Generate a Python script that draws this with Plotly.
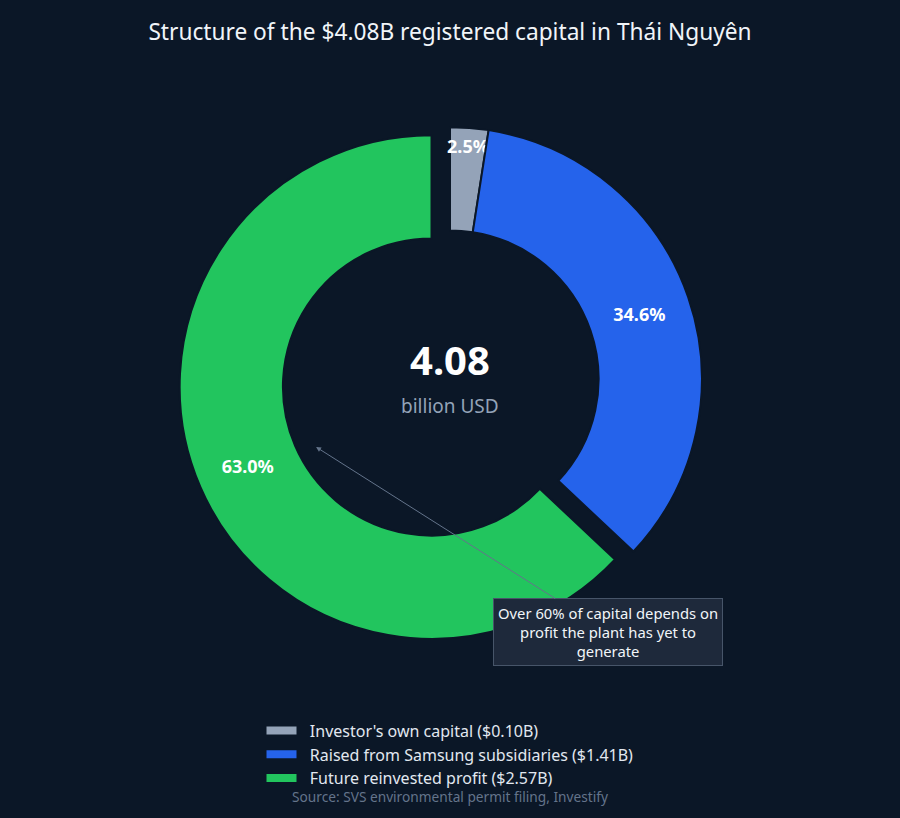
import plotly.graph_objects as go

labels = ["Investor's own capital ($0.10B)",
          "Raised from Samsung subsidiaries ($1.41B)",
          "Future reinvested profit ($2.57B)"]
values = [0.10, 1.41, 2.57]
colors = ["#94a3b8", "#2563eb", "#22c55e"]
pulls = [0, 0, 0.08]

total_text = "4.08"
unit_text = "billion USD"
title_text = "Structure of the $4.08B registered capital in Thái Nguyên"
note_text = "Over 60% of capital depends on<br>profit the plant has yet to<br>generate"
source_text = "Source: SVS environmental permit filing, Investify"

bg = "#0b1727"

fig = go.Figure(go.Pie(
    labels=labels,
    values=values,
    hole=0.59,
    sort=False,
    direction="clockwise",
    rotation=0,
    pull=pulls,
    marker=dict(colors=colors, line=dict(color=bg, width=2)),
    texttemplate="%{percent:.1%}",
    textposition="inside",
    insidetextorientation="horizontal",
    textfont=dict(size=18, color="white", family="Noto Sans", weight="bold"),
    hoverinfo="label+value+percent",
    showlegend=False,
))

# legend entries drawn as thick bars, like the reference
for name, c in zip(labels, colors):
    fig.add_trace(go.Scatter(x=[None], y=[None], mode="lines",
                             name="\u00a0\u00a0" + name,
                             line=dict(color=c, width=8), hoverinfo="skip"))

fig.update_xaxes(visible=False)
fig.update_yaxes(visible=False)

fig.update_layout(
    width=900, height=818,
    paper_bgcolor=bg, plot_bgcolor=bg,
    font=dict(family="Noto Sans", color="#e2e8f0"),
    margin=dict(l=80, r=80, t=107, b=167),
    title=dict(text=title_text, x=0.5, xanchor="center", y=0.961, yanchor="middle",
               font=dict(size=22.7, color="#f1f5f9")),
    uniformtext=dict(minsize=18, mode="show"),
    legend=dict(orientation="v", x=0.5, xanchor="center", y=-0.115, yanchor="top",
                tracegroupgap=0,
                font=dict(size=16, color="#e2e8f0"), bgcolor="rgba(0,0,0,0)"),
    annotations=[
        dict(text=f"<b>{total_text}</b>", x=0.5, y=0.535, xref="paper", yref="paper",
             showarrow=False, font=dict(size=40, color="white")),
        dict(text=unit_text, x=0.5, y=0.45, xref="paper", yref="paper",
             showarrow=False, font=dict(size=19, color="#94a3b8")),
        dict(text=note_text, x=0.319, y=0.375, xref="paper", yref="paper",
             showarrow=True, ax=292, ay=185, arrowhead=2, arrowsize=1, arrowwidth=1,
             arrowcolor="#64748b", bgcolor="#1e293b", bordercolor="#475569",
             borderwidth=1, borderpad=4, font=dict(size=14.8, color="#f1f5f9")),
        dict(text=source_text, x=0.5, y=-0.288, xref="paper", yref="paper",
             showarrow=False, font=dict(size=13.7, color="#64748b")),
    ],
)

fig.write_html("out.html", config={"displayModeBar": False},
               post_script="document.body.style.margin='0';document.body.style.overflow='hidden';")
